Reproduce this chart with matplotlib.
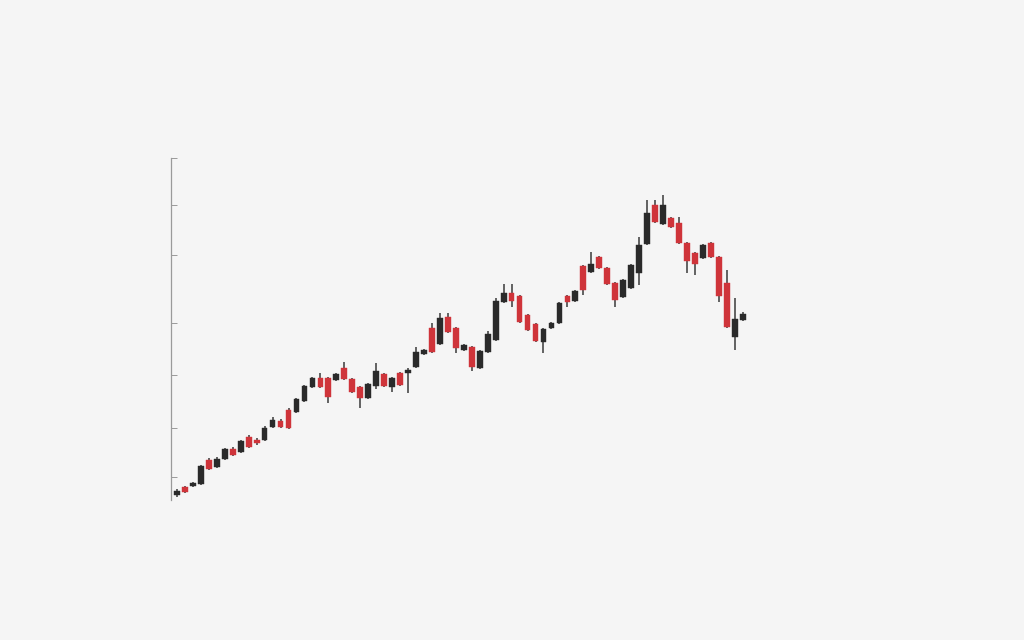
import numpy as np
import matplotlib
matplotlib.use('Agg')
import matplotlib.pyplot as plt

# candle data (open, high, low, close), one per session
opens = [102.5, 106.5, 107, 108, 120, 116.5, 120.5, 125.5, 124, 131.5,
         130, 130, 136.5, 139.5, 145, 144, 149.5, 156.5, 161, 161,
         160, 166, 160.5, 156.5, 151, 157, 163, 156.5, 163.5, 163.5,
         166.5, 173, 186, 178, 191.5, 186, 175, 176.5, 166, 174,
         180, 199, 203.5, 202, 192.5, 188, 179, 186, 188.5, 202,
         199.5, 217, 214, 221.5, 216, 208.5, 201.5, 206, 213.5, 228,
         247.5, 238, 241, 238.5, 228.5, 223.5, 221, 228.5, 221.5, 208.5,
         181.5, 190]
highs = [105.5, 107, 109, 117.5, 121, 121.5, 126, 126.5, 130, 132.5,
         131, 137, 141.5, 140.5, 146, 151, 157.5, 161.5, 163.5, 161.5,
         163.5, 169, 161, 157, 158.5, 168.5, 163.5, 161.5, 164, 166,
         176.5, 175.5, 188.5, 193.5, 193.5, 186.5, 178, 177, 175, 184.5,
         201, 208, 208, 202.5, 193, 188.5, 186, 189, 199, 202.5,
         205, 217.5, 224, 222, 216.5, 209, 210.5, 218, 231.5, 250,
         250, 252.5, 241.5, 241.5, 229, 224, 228, 229, 222, 215,
         201, 194]
lows = [101.5, 103.5, 106.5, 107.5, 115, 116, 120, 122, 123.5, 126,
        127.5, 129.5, 136, 136, 135.5, 143.5, 149, 156, 156, 148.5,
        159.5, 160, 153.5, 146, 150.5, 155.5, 156.5, 154, 157, 153.5,
        166, 172.5, 173.5, 177.5, 183.5, 173.5, 174.5, 164.5, 165.5, 173.5,
        179.5, 198.5, 196.5, 188.5, 184.5, 179, 173.5, 185.5, 188, 196.5,
        199, 202.5, 213.5, 215.5, 207.5, 196.5, 201, 205.5, 207.5, 227.5,
        238.5, 237.5, 236, 228, 213.5, 212.5, 220.5, 221, 199, 186,
        175, 189.5]
closes = [104.5, 104, 108.5, 117, 115.5, 120.5, 125.5, 122.5, 129.5, 126.5,
          128.5, 136, 140, 136.5, 136, 150.5, 157, 161, 156.5, 151.5,
          163, 160.5, 154, 151, 158, 164.5, 157, 161, 157.5, 165,
          174, 175, 174, 191, 184, 176, 177.5, 166.5, 174.5, 183,
          199.5, 203.5, 199.5, 189, 185, 179.5, 185.5, 188.5, 198.5, 199,
          204.5, 205, 218, 216, 208, 200, 210, 217.5, 227.5, 243.5,
          239, 247.5, 236.5, 228.5, 219.5, 218, 227.5, 221.5, 202, 186.5,
          190.5, 193]

ytick_vals = [111.5, 136, 162.5, 188.5, 222.5, 247.5, 271]

up_color = '#2a2a2a'
down_color = '#cf343a'
bg = '#f5f5f5'

o = np.array(opens); h = np.array(highs); l = np.array(lows); c = np.array(closes)
idx = np.arange(len(o))
up = c >= o
colors = np.where(up, up_color, down_color)

fig = plt.figure(figsize=(10.24, 6.4), dpi=100, facecolor=bg)
ax = fig.add_axes([0.167, 0.21875, 0.575, 0.534])
ax.set_facecolor(bg)

# wicks
ax.vlines(idx, l, h, color='#3a3a3a', linewidth=1.1, zorder=1)
# bodies
body_bottom = np.minimum(o, c)
body_height = np.maximum(np.abs(c - o), 0.6)
ax.bar(idx, body_height, bottom=body_bottom, width=0.72, color=colors,
       edgecolor=colors, linewidth=0.3, zorder=2)

ax.set_xlim(-0.75, 73.15)
ax.set_ylim(100, 271)

for s in ['top', 'right', 'bottom']:
    ax.spines[s].set_visible(False)
ax.spines['left'].set_color('#9a9a9a')
ax.spines['left'].set_linewidth(0.9)
ax.set_xticks([])
ax.set_yticks(ytick_vals)
ax.set_yticklabels([''] * len(ytick_vals))
ax.tick_params(axis='y', direction='in', length=4, width=0.7, color='#9a9a9a')

fig.savefig('out.png', dpi=100, facecolor=bg)
